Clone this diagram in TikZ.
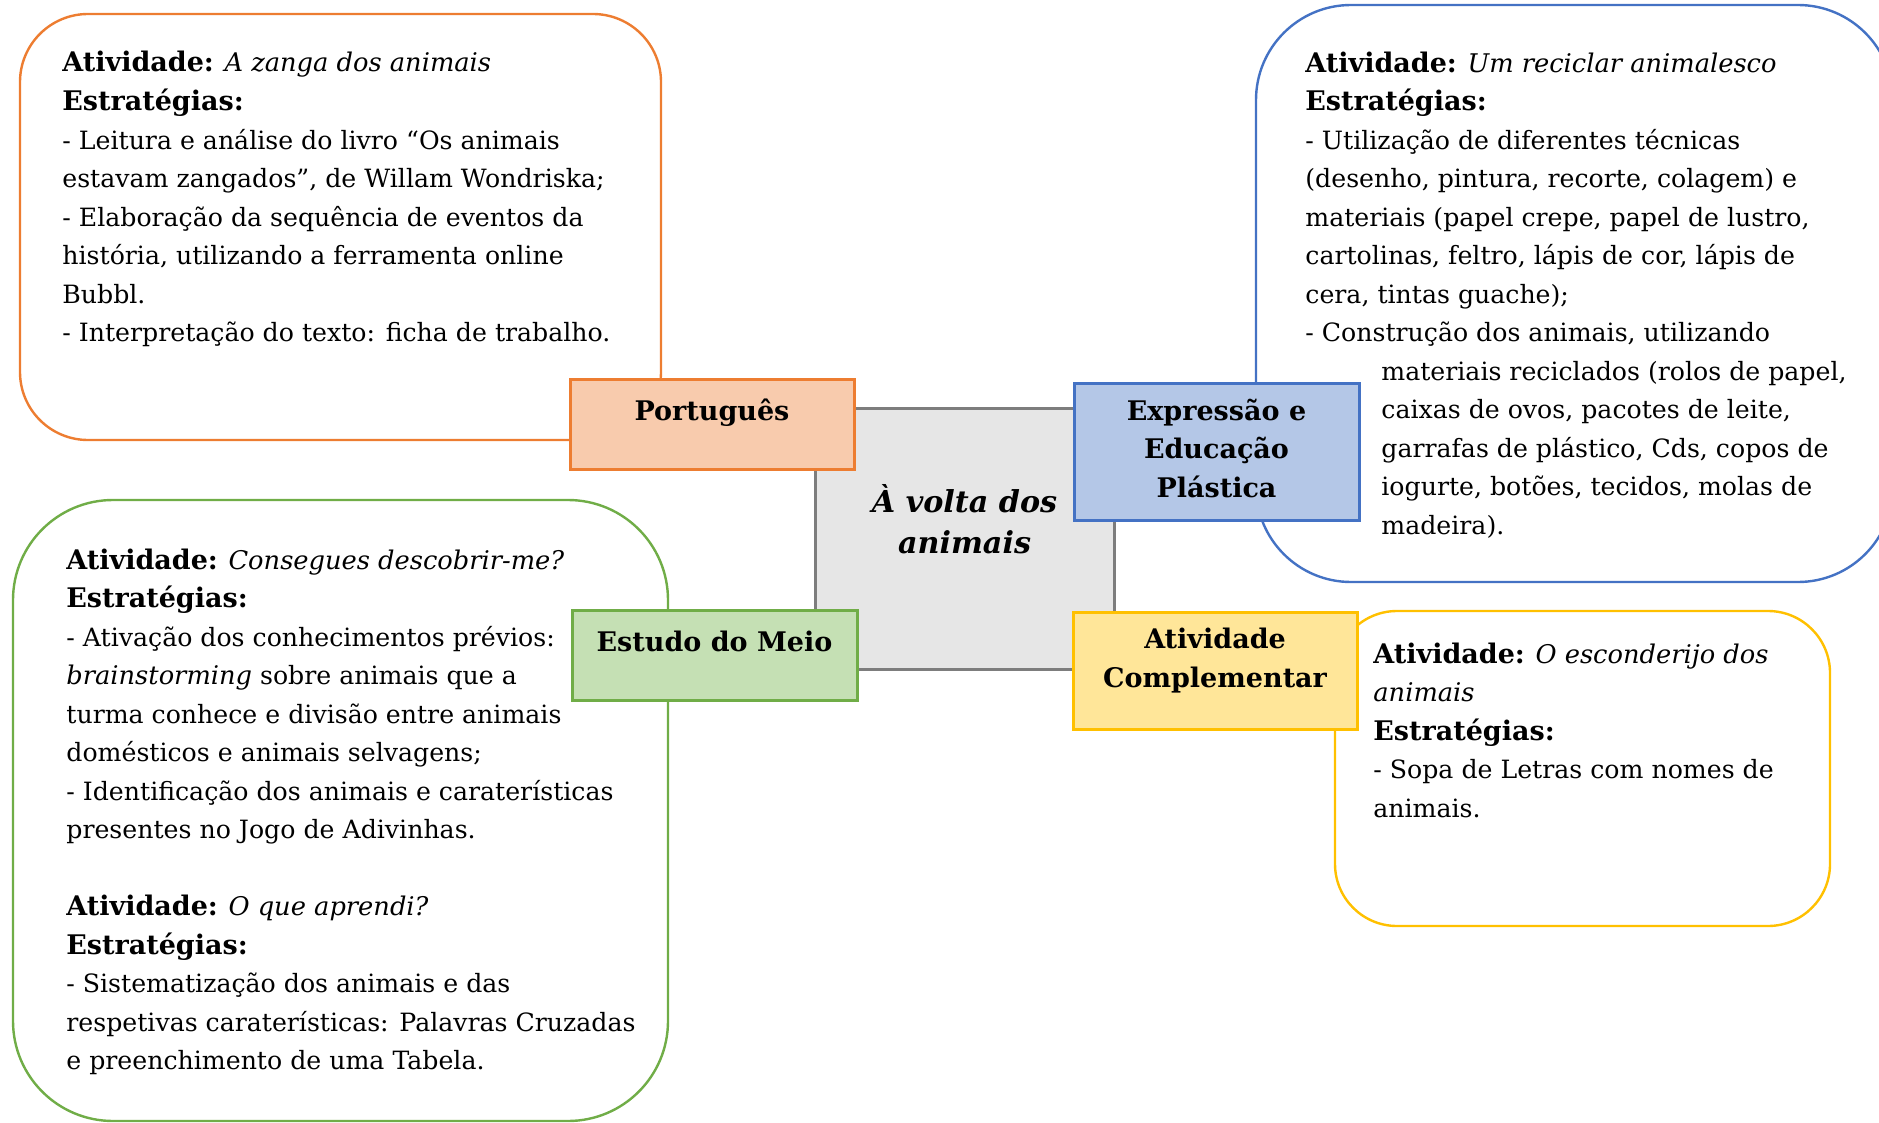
\documentclass[tikz,border=0pt]{standalone}
\usepackage{fontspec}
\setmainfont{DejaVu Serif}[BoldFeatures={Scale=1.071}, ItalicFeatures={Scale=1.02}, BoldItalicFeatures={Scale=1.071}]
\definecolor{carrot}{RGB}{237, 125, 49}
\definecolor{peach}{RGB}{248, 203, 173}
\definecolor{royal}{RGB}{68, 114, 196}
\definecolor{sky}{RGB}{180, 199, 231}
\definecolor{leaf}{RGB}{112, 173, 71}
\definecolor{mint}{RGB}{197, 224, 180}
\definecolor{amber}{RGB}{255, 192, 0}
\definecolor{butter}{RGB}{255, 230, 153}
\definecolor{slate}{RGB}{125, 125, 125}
\definecolor{cloud}{RGB}{230, 230, 230}
\tikzset{
  card/.style={draw, fill=white, line width=1.2pt, rounded corners=#1},
  subject/.style={draw, line width=1.5pt, inner sep=0pt},
  subjtext/.style={anchor=base, align=center, inner sep=0pt,
                   font=\fontsize{12.6pt}{19.25pt}\selectfont\bfseries},
  notes/.style={anchor=base west, align=left, inner sep=0pt,
                font=\fontsize{12.6pt}{19.25pt}\selectfont}
}

\begin{document}
\begin{tikzpicture}[x=0.5pt, y=-0.5pt]
            \useasboundingbox (0,0) rectangle (1879,1123);
            \clip (0,0) rectangle (1879,1123);
            % cartoes das atividades
            \node[card=34pt,  draw=carrot, minimum width=320.5pt, minimum height=213pt]   (portcard) at ( 340.5, 227.0) {};
            \node[card=47.5pt, draw=royal, minimum width=318.5pt, minimum height=288.5pt] (expcard)  at (1574.5, 293.5) {};
            \node[card=50pt,  draw=leaf,   minimum width=327.5pt, minimum height=310.5pt] (estcard)  at ( 340.5, 810.5) {};
            \node[card=31pt,  draw=amber,  minimum width=247.5pt, minimum height=157.5pt] (compcard) at (1582.5, 768.5) {};
            % tema central (base = ultima linha)
            \node[subject, draw=slate, fill=cloud, minimum width=149.5pt, minimum height=130.5pt] (tema) at (964.5, 538.5) {};
            \node[subjtext, font=\fontsize{14.1pt}{20.5pt}\selectfont\bfseries\itshape] (tematxt) at (964.5, 553) {À volta dos\\animais};
            % areas
            \node[subject, draw=carrot, fill=peach,  minimum width=142pt,   minimum height=45pt]   (port) at ( 712.0, 424.0) {};
            \node[subject, draw=royal,  fill=sky,    minimum width=142.5pt, minimum height=68.5pt] (exp)  at (1216.5, 451.5) {};
            \node[subject, draw=leaf,   fill=mint,   minimum width=142.5pt, minimum height=45pt]   (est)  at ( 714.5, 655.0) {};
            \node[subject, draw=amber,  fill=butter, minimum width=142pt,   minimum height=58.5pt] (comp) at (1215.0, 670.5) {};
            \node[subjtext] (porttxt) at ( 712.0, 420) {Português};
            \node[subjtext] (exptxt)  at (1216.5, 497) {Expressão e\\Educação\\Plástica};
            \node[subjtext] (esttxt)  at ( 714.5, 651) {Estudo do Meio};
            \node[subjtext] (comptxt) at (1215.0, 687) {Atividade\\Complementar};
            % textos (base = ultima linha)
            \node[notes] (portnotes) at (62, 341.5) {\textbf{Atividade:} \textit{A zanga dos animais}\\
                \textbf{Estratégias:}\\
                - Leitura e análise do livro “Os animais\\
                estavam zangados”, de Willam Wondriska;\\
                - Elaboração da sequência de eventos da\\
                história, utilizando a ferramenta online\\
                Bubbl.\\
                - Interpretação do texto: ficha de trabalho.};
            \node[notes] (expnotes) at (1305, 534) {\textbf{Atividade:} \textit{Um reciclar animalesco}\\
                \textbf{Estratégias:}\\
                - Utilização de diferentes técnicas\\
                (desenho, pintura, recorte, colagem) e\\
                materiais (papel crepe, papel de lustro,\\
                cartolinas, feltro, lápis de cor, lápis de\\
                cera, tintas guache);\\
                - Construção dos animais, utilizando\\
                \hspace*{38pt}materiais reciclados (rolos de papel,\\
                \hspace*{38pt}caixas de ovos, pacotes de leite,\\
                \hspace*{38pt}garrafas de plástico, Cds, copos de\\
                \hspace*{38pt}iogurte, botões, tecidos, molas de\\
                \hspace*{38pt}madeira).};
            \node[notes] (estnotes) at (66, 1069.5) {\textbf{Atividade:} \textit{Consegues descobrir-me?}\\
                \textbf{Estratégias:}\\
                - Ativação dos conhecimentos prévios:\\
                \textit{brainstorming} sobre animais que a\\
                turma conhece e divisão entre animais\\
                domésticos e animais selvagens;\\
                - Identificação dos animais e caraterísticas\\
                presentes no Jogo de Adivinhas.\\
                ~\\
                \textbf{Atividade:} \textit{O que aprendi?}\\
                \textbf{Estratégias:}\\
                - Sistematização dos animais e das\\
                respetivas caraterísticas: Palavras Cruzadas\\
                e preenchimento de uma Tabela.};
            \node[notes] (compnotes) at (1373, 817) {\textbf{Atividade:} \textit{O esconderijo dos}\\
                \textit{animais}\\
                \textbf{Estratégias:}\\
                - Sopa de Letras com nomes de\\
                animais.};
        \end{tikzpicture}
\end{document}
